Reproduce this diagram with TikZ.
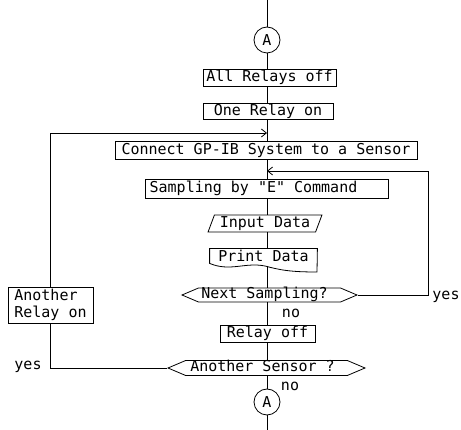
\documentclass[tikz,border=0pt]{standalone}
\usepackage{fontspec}
\setmonofont{DejaVu Sans Mono}
\usetikzlibrary{shapes.geometric,shapes.symbols,arrows.meta}

\begin{document}
\begin{tikzpicture}[x=1pt, y=-1pt, line width=0.8pt, >={Straight Barb[length=5pt,width=8pt]}]
\useasboundingbox (0,0) rectangle (461,430);
\tikzset{every node/.style={font=\ttfamily\fontsize{15}{17}\selectfont}}
\tikzset{boxstyle/.style={draw, rectangle, inner sep=0pt}}
\tikzset{hexstyle/.style={draw, signal, signal to=west and east, signal pointer angle=46,
  inner sep=0pt, text height=11pt, text depth=3pt}}

\node[circle, draw, minimum size=26pt, inner sep=0pt] (atop) at (267,40) {A};
\node[boxstyle, minimum width=133pt, minimum height=17pt] (all) at (269.5,77.5) {All Relays off};
\node[boxstyle, minimum width=130pt, minimum height=16pt] (one) at (268,111) {One Relay on};
\node[boxstyle, minimum width=302pt, minimum height=18pt] (conn) at (266,150) {Connect GP-IB System to a Sensor};
\node[boxstyle, minimum width=243pt, minimum height=19pt] (samp) at (266.5,188.5) {Sampling by "E" Command\hspace*{26pt}};
\node[draw, trapezium, trapezium left angle=68, trapezium right angle=112, trapezium stretches=true,
  minimum width=114pt, minimum height=17pt, inner sep=0pt] (input) at (265,223.5) {Input Data};
\node[minimum width=107pt, minimum height=14pt, inner sep=0pt] (print) at (263.5,256) {Print Data};
\node[hexstyle, minimum width=175pt, minimum height=14pt] (nxt) at (269.5,295) {Next Sampling?\hspace*{10pt}};
\node[boxstyle, minimum width=95pt, minimum height=17pt] (off) at (267.5,333.5) {Relay off};
\node[hexstyle, minimum width=197pt, minimum height=15pt] (sens) at (266.5,368) {Another Sensor ?\hspace*{8pt}};
\node[circle, draw, minimum size=26pt, inner sep=0pt] (abot) at (267,402) {A};
\node[boxstyle, minimum width=85pt, minimum height=36pt, align=left] (arel) at (50.5,305) {Another\\Relay on};

% print shape with wavy bottom
\draw (print.north west) -- (print.south west)
  .. controls (230,272) and (245,262) .. (265,266)
  .. controls (280,270) and (290,272) .. (317,272) -- (print.north east) -- cycle;
\coordinate (pbot) at (267,266);

\node (yes1) at (446,297) {yes};
\node (yes2) at (28,367) {yes};
\node (no1) at (291,313) {no};
\node (no2) at (290,386) {no};

\coordinate (top) at (267,0);
\coordinate (bot) at (267,430);
\coordinate (r) at (428,171);
\coordinate (l) at (0,133);

% main line
\draw (top) -- (atop);
\draw (atop) -- (all.north -| atop);
\draw (all.south -| atop) -- (one.north -| atop);
\draw (one.south -| atop) -- (conn.north -| atop);
\draw (conn.south -| atop) -- (samp.north -| atop);
\draw (samp.south -| atop) -- (input.north -| atop);
\draw (input.south -| atop) -- (print.north -| atop);
\draw (pbot) -- (nxt.north -| atop);
\draw (nxt.south -| atop) -- (off.north -| atop);
\draw (off.south -| atop) -- (sens.north -| atop);
\draw (sens.south -| atop) -- (abot);
\draw (abot) -- (bot);

% loops
\draw[->] (nxt.east) -| (r) -- (r -| atop);
\draw (sens.west) -| (arel.south);
\draw[->] (arel.north) |- (l -| atop);
\end{tikzpicture}
\end{document}
